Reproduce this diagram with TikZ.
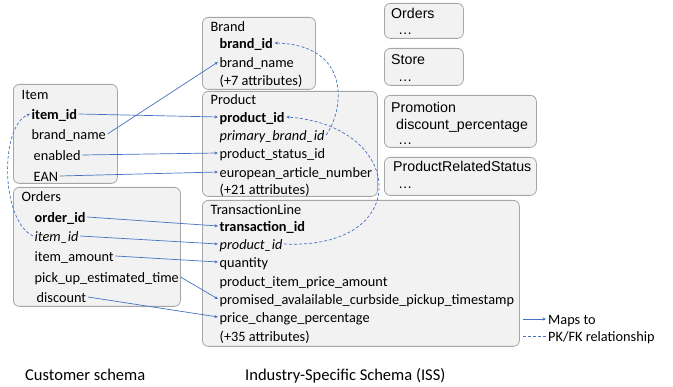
\documentclass[tikz,border=0pt]{standalone}
\usepackage{fontspec}
\setmainfont{Carlito}
\newfontfamily\arialf{Liberation Sans}
\usetikzlibrary{arrows.meta}
\definecolor{boxfill}{HTML}{F2F2F2}
\definecolor{boxline}{HTML}{A6A6A6}
\definecolor{lnk}{HTML}{4472C4}
\tikzset{
 tbl/.style={draw=boxline, fill=boxfill, rounded corners=6pt, line width=0.8pt, anchor=north west, inner sep=0pt},
 attr/.style={anchor=west, inner sep=1.5pt, font=\fontsize{14.3}{17}\selectfont, text height=13pt, text depth=2pt},
 rtxt/.style={anchor=west, inner sep=0pt, font=\arialf\fontsize{14.2}{16}\selectfont, text height=10pt, text depth=3pt},
 lbl/.style={anchor=west, inner sep=0pt, font=\fontsize{16.5}{19}\selectfont, text height=15pt, text depth=2pt},
 maps/.style={draw=lnk, line width=0.7pt, -{Stealth[length=3.5pt,width=3pt]}},
 fk/.style={maps, dash pattern=on 3pt off 2pt},
}
\begin{document}
\begin{tikzpicture}[x=1pt,y=-1pt]
\useasboundingbox[fill=white] (0,0) rectangle (673,387);
% tables
\node[tbl, minimum width=113pt, minimum height=72pt] (brand) at (202,17) {};
\node[tbl, minimum width=175pt, minimum height=105pt] (product) at (202,91) {};
\node[tbl, minimum width=317pt, minimum height=146pt] (tline) at (202,200) {};
\node[tbl, minimum width=104pt, minimum height=99pt] (item) at (13,84) {};
\node[tbl, minimum width=167pt, minimum height=119pt] (orders) at (13,187) {};
\node[tbl, minimum width=79pt, minimum height=35pt] (rorders) at (384,3) {};
\node[tbl, minimum width=79pt, minimum height=37pt] (store) at (384,48) {};
\node[tbl, minimum width=152pt, minimum height=52pt] (promo) at (384,95) {};
\node[tbl, minimum width=152pt, minimum height=38pt] (prs) at (384,157) {};
% Brand
\node[attr] (brT) at (209,26) {Brand};
\node[attr] (br1) at (218,43) {\textbf{brand\_id}};
\node[attr] (br2) at (218,62) {brand\_name};
\node[attr] (br3) at (218,80) {(+7 attributes)};
% Product
\node[attr] (prT) at (209,99) {Product};
\node[attr] (pr1) at (218,117) {\textbf{product\_id}};
\node[attr] (pr2) at (218,135) {\textit{primary\_brand\_id}};
\node[attr] (pr3) at (218,153) {product\_status\_id};
\node[attr] (pr4) at (218,172) {european\_article\_number};
\node[attr] (pr5) at (218,189) {(+21 attributes)};
% TransactionLine
\node[attr] (tlT) at (209,209) {TransactionLine};
\node[attr] (tl1) at (218,226) {\textbf{transaction\_id}};
\node[attr] (tl2) at (218,244) {\textit{product\_id}};
\node[attr] (tl3) at (218,262) {quantity};
\node[attr] (tl4) at (218,281) {product\_item\_price\_amount};
\node[attr] (tl5) at (218,299) {promised\_avalailable\_curbside\_pickup\_timestamp};
\node[attr] (tl6) at (218,317) {price\_change\_percentage};
\node[attr] (tl7) at (218,336) {(+35 attributes)};
% Item
\node[attr] (itT) at (20,94) {Item};
\node[attr] (it1) at (30,114) {\textbf{item\_id}};
\node[attr] (it2) at (30,134) {brand\_name};
\node[attr] (it3) at (32,155) {enabled};
\node[attr] (it4) at (32,176) {EAN};
% Orders
\node[attr] (orT) at (20,196) {Orders};
\node[attr] (or1) at (33,217) {\textbf{order\_id}};
\node[attr] (or2) at (33,236) {\textit{item\_id}};
\node[attr] (or3) at (33,256) {item\_amount};
\node[attr] (or4) at (33,277) {pick\_up\_estimated\_time};
\node[attr] (or5) at (35,297) {discount};
% right boxes
\node[rtxt] (roT) at (391,15) {Orders};
\node[rtxt] (ro1) at (398,31) {\dots};
\node[rtxt] (stT) at (391,61) {Store};
\node[rtxt] (st1) at (398,78) {\dots};
\node[rtxt] (pmT) at (391,109) {Promotion};
\node[rtxt] (pm1) at (396,126) {discount\_percentage};
\node[rtxt] (pm2) at (398,141) {\dots};
\node[rtxt] (psT) at (393,168) {ProductRelatedStatus};
\node[rtxt] (ps1) at (398,185) {\dots};
% maps-to connectors
\draw[maps] (it1.east) -- (pr1.west);
\draw[maps] (it2.east) -- (br2.west);
\draw[maps] (it3.east) -- (pr3.west);
\draw[maps] (it4.east) -- (pr4.west);
\draw[maps] (or1.east) -- (tl1.west);
\draw[maps] (or2.east) -- (tl2.west);
\draw[maps] (or3.east) -- (tl3.west);
\draw[maps] (or4.east) -- (tl5.west);
\draw[maps] (or5.east) -- (tl6.west);
% PK/FK
\draw[fk] (or2.west) .. controls (0,220) and (0,125) .. (it1.west);
\draw[fk] (pr2.east) .. controls (344,110) and (352,45) .. (br1.east);
\draw[fk] (tl2.east) .. controls (415,250) and (405,125) .. (pr1.east);
% legend
\coordinate (l1a) at (523,319);
\coordinate (l1b) at (546,319);
\coordinate (l2a) at (523,336);
\coordinate (l2b) at (546,336);
\draw[maps] (l1a) -- (l1b);
\draw[fk, -] (l2a) -- (l2b);
\node[attr, inner sep=0pt] (lg1) at (548,319) {Maps to};
\node[attr, inner sep=0pt] (lg2) at (548,336) {PK/FK relationship};
% schema labels
\node[lbl] (cs) at (25,374) {Customer schema};
\node[lbl] (iss) at (245,374) {Industry-Specific Schema (ISS)};
\end{tikzpicture}
\end{document}
